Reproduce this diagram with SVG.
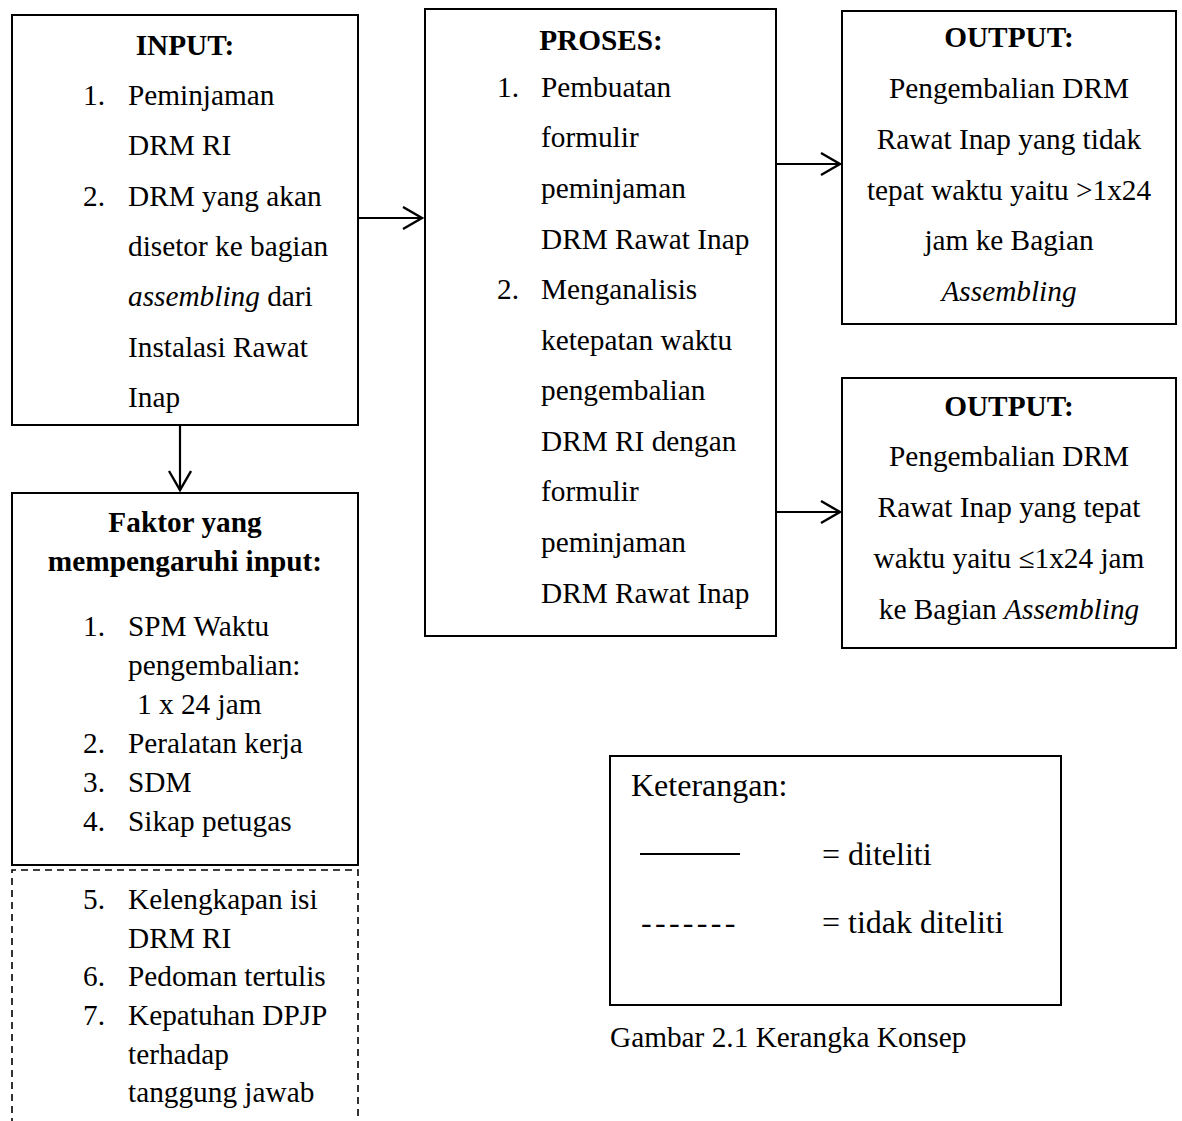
<svg xmlns="http://www.w3.org/2000/svg" width="1182" height="1121" viewBox="0 0 1182 1121">
<style>
.box{fill:#fff;stroke:#000;stroke-width:2}
.dash{fill:none;stroke:#000;stroke-width:1.6;stroke-dasharray:7 5}
t,text{font-family:"Liberation Serif","Times New Roman",serif;font-size:29.3px;fill:#000}
.b{font-weight:bold}
.c{text-anchor:middle}
.i{font-style:italic}
.k{font-size:32px}
.ln{stroke:#000;stroke-width:2.2;fill:none}
.sh{stroke:#000;stroke-opacity:0.28;stroke-width:3;fill:none;filter:url(#blur)}
</style>
<defs>
<filter id="blur" x="-10%" y="-200%" width="120%" height="500%"><feGaussianBlur stdDeviation="1.6"/></filter>
<marker id="arr" markerWidth="24" markerHeight="26" refX="21" refY="12" orient="auto" markerUnits="userSpaceOnUse">
<path d="M2,1 L21,12 L2,23" fill="none" stroke="#000" stroke-width="2.4"/>
</marker>
</defs>
<rect width="1182" height="1121" fill="#fff"/>

<g id="connectors">
<line class="sh" x1="360" y1="222" x2="416" y2="222"/>
<line class="ln" x1="358" y1="218" x2="422" y2="218" marker-end="url(#arr)"/>
<line class="sh" x1="778" y1="168" x2="834" y2="168"/>
<line class="ln" x1="776" y1="164" x2="840" y2="164" marker-end="url(#arr)"/>
<line class="sh" x1="778" y1="516" x2="834" y2="516"/>
<line class="ln" x1="776" y1="512" x2="840" y2="512" marker-end="url(#arr)"/>
<line class="ln" x1="180" y1="425" x2="180" y2="490" marker-end="url(#arr)"/>
</g>

<g id="input">
<rect class="box" x="12" y="15" width="346" height="410"/>
<text class="b c" x="185" y="55">INPUT:</text>
<text x="83" y="105">1.</text><text x="128" y="105">Peminjaman</text>
<text x="128" y="155">DRM RI</text>
<text x="83" y="206">2.</text><text x="128" y="206">DRM yang akan</text>
<text x="128" y="256">disetor ke bagian</text>
<text x="128" y="306"><tspan class="i">assembling</tspan> dari</text>
<text x="128" y="357">Instalasi Rawat</text>
<text x="128" y="407">Inap</text>
</g>

<g id="proses">
<rect class="box" x="425" y="9" width="351" height="627"/>
<text class="b c" x="601" y="50">PROSES:</text>
<text x="497" y="97">1.</text><text x="541" y="97">Pembuatan</text>
<text x="541" y="147">formulir</text>
<text x="541" y="198">peminjaman</text>
<text x="541" y="249">DRM Rawat Inap</text>
<text x="497" y="299">2.</text><text x="541" y="299">Menganalisis</text>
<text x="541" y="350">ketepatan waktu</text>
<text x="541" y="400">pengembalian</text>
<text x="541" y="451">DRM RI dengan</text>
<text x="541" y="501">formulir</text>
<text x="541" y="552">peminjaman</text>
<text x="541" y="603">DRM Rawat Inap</text>
</g>

<g id="output1">
<rect class="box" x="842" y="11" width="334" height="313"/>
<text class="b c" x="1009" y="47">OUTPUT:</text>
<text class="c" x="1009" y="98">Pengembalian DRM</text>
<text class="c" x="1009" y="149">Rawat Inap yang tidak</text>
<text class="c" x="1009" y="200">tepat waktu yaitu &gt;1x24</text>
<text class="c" x="1009" y="250">jam ke Bagian</text>
<text class="c i" x="1009" y="301">Assembling</text>
</g>

<g id="output2">
<rect class="box" x="842" y="378" width="334" height="270"/>
<text class="b c" x="1009" y="416">OUTPUT:</text>
<text class="c" x="1009" y="466">Pengembalian DRM</text>
<text class="c" x="1009" y="517">Rawat Inap yang tepat</text>
<text class="c" x="1009" y="568">waktu yaitu ≤1x24 jam</text>
<text class="c" x="1009" y="619">ke Bagian <tspan class="i">Assembling</tspan></text>
</g>

<g id="faktor">
<rect class="box" x="12" y="493" width="346" height="372"/>
<text class="b c" x="185" y="532">Faktor yang</text>
<text class="b c" x="185" y="571">mempengaruhi input:</text>
<text x="83" y="636">1.</text><text x="128" y="636">SPM Waktu</text>
<text x="128" y="675">pengembalian:</text>
<text x="137" y="714">1 x 24 jam</text>
<text x="83" y="753">2.</text><text x="128" y="753">Peralatan kerja</text>
<text x="83" y="792">3.</text><text x="128" y="792">SDM</text>
<text x="83" y="831">4.</text><text x="128" y="831">Sikap petugas</text>
</g>

<g id="faktor-lain">
<path class="dash" d="M12,1125 L12,870 L358,870 L358,1125"/>
<text x="83" y="909">5.</text><text x="128" y="909">Kelengkapan isi</text>
<text x="128" y="948">DRM RI</text>
<text x="83" y="986">6.</text><text x="128" y="986">Pedoman tertulis</text>
<text x="83" y="1025">7.</text><text x="128" y="1025">Kepatuhan DPJP</text>
<text x="128" y="1064">terhadap</text>
<text x="128" y="1102">tanggung jawab</text>
</g>

<g id="keterangan">
<rect class="box" x="610" y="756" width="451" height="249"/>
<text class="k" x="631" y="796">Keterangan:</text>
<line x1="640" y1="854" x2="740" y2="854" stroke="#000" stroke-width="2"/>
<text class="k" x="822" y="865">= diteliti</text>
<text class="k" x="641" y="933" letter-spacing="3.3">-------</text>
<text class="k" x="822" y="933">= tidak diteliti</text>
</g>

<text x="610" y="1047">Gambar 2.1 Kerangka Konsep</text>
</svg>
